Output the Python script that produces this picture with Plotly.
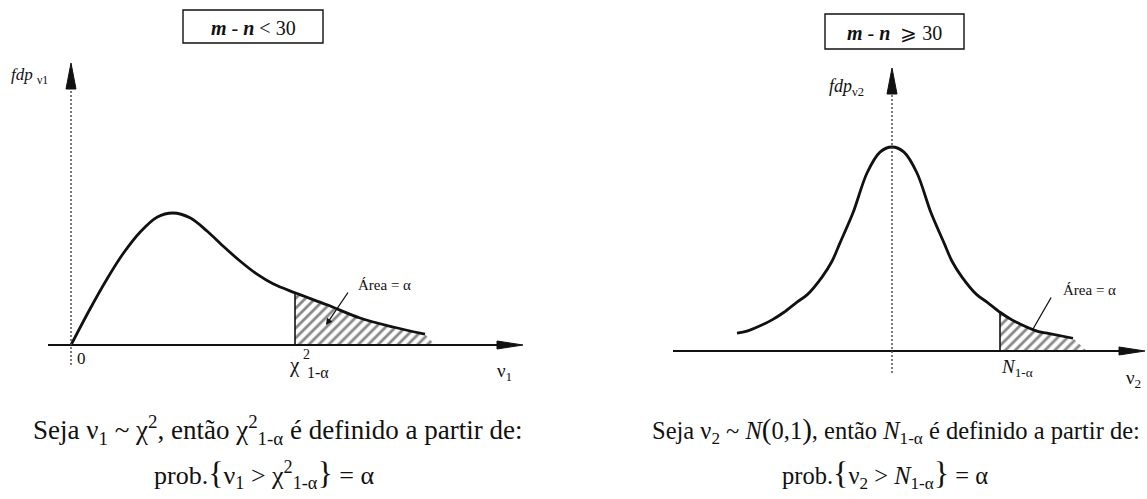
import plotly.graph_objects as go

W, H = 1147, 499
SERIF = "Liberation Serif, Times New Roman, serif"
INK = "#111111"

# Left panel: chi-square type density of v1 (curve traced point by point)
chi_x = [0.0, 0.76, 1.44, 2.08, 2.76, 3.44, 4.08, 4.76, 5.44, 6.08, 6.76,
         7.44, 8.08, 8.96, 10.24, 11.56, 12.88, 14.16]
chi_y = [0.0, 0.060, 0.110, 0.152, 0.188, 0.213, 0.220, 0.212, 0.190, 0.165,
         0.140, 0.118, 0.102, 0.087, 0.067, 0.045, 0.030, 0.018]
chi_crit = 8.96          # chi^2_{1-alpha}
chi_hatch_end = 14.56    # where the hatching meets the axis

# Right panel: standard normal type density of v2
norm_x = [-3.10, -2.90, -2.56, -2.40, -2.16, -1.90, -1.70, -1.40, -1.20, -1.04,
          -0.78, -0.50, -0.24, 0.00, 0.24, 0.50, 0.78, 1.04, 1.20, 1.40, 1.70,
          1.90, 2.16, 2.40, 2.56, 2.90, 3.10, 3.62]
norm_y = [0.035, 0.039, 0.053, 0.061, 0.076, 0.096, 0.110, 0.145, 0.176, 0.212,
          0.271, 0.349, 0.390, 0.400, 0.390, 0.349, 0.271, 0.212, 0.176, 0.145,
          0.110, 0.096, 0.076, 0.061, 0.053, 0.039, 0.035, 0.025]
norm_crit = 2.16         # N_{1-alpha}
norm_hatch_end = 3.90

# Screen placement of each panel: origin pixel and pixels per data unit
PANELS = {
    "left": dict(xa="x", ya="y", ox=71, sx=25, oy=345, sy=600,
                 dom=(0.0, 0.5), xaxis_px=(48, 523), yaxis_px=(365, 63)),
    "right": dict(xa="x2", ya="y2", ox=892, sx=50, oy=351, sy=510,
                  dom=(0.5, 1.0), xaxis_px=(673, 1145), yaxis_px=(373, 68)),
}


def dx(p, px):
    return (px - p["ox"]) / p["sx"]


def dy(p, py):
    return (p["oy"] - py) / p["sy"]


def paper(px, py):
    return px / W, 1 - py / H


fig = go.Figure()
shapes, annotations = [], []


def hatch_polygon(xs, ys, crit, end):
    hx, hy = [crit], [0.0]
    for x, y in zip(xs, ys):
        if x >= crit:
            hx.append(x)
            hy.append(y)
    hx += [end, crit]
    hy += [0.0, 0.0]
    return hx, hy


def add_panel(p, xs, ys, crit, end):
    xa, ya = p["xa"], p["ya"]
    hx, hy = hatch_polygon(xs, ys, crit, end)
    fig.add_trace(go.Scatter(
        x=hx, y=hy, xaxis=xa, yaxis=ya, mode="lines", fill="toself",
        line=dict(width=0, color="rgba(0,0,0,0)"), fillcolor="rgba(0,0,0,0)",
        fillpattern=dict(shape="/", size=7, solidity=0.4, fgcolor="#111111",
                         bgcolor="rgba(0,0,0,0)"),
        hoverinfo="skip", showlegend=False))
    crit_y = ys[xs.index(crit)]
    fig.add_trace(go.Scatter(
        x=[crit, crit], y=[0, crit_y], xaxis=xa, yaxis=ya, mode="lines",
        line=dict(color=INK, width=1.6), hoverinfo="skip", showlegend=False))
    fig.add_trace(go.Scatter(
        x=xs, y=ys, xaxis=xa, yaxis=ya, mode="lines",
        line=dict(color=INK, width=2.8, shape="spline", smoothing=0.9),
        hoverinfo="skip", showlegend=False))

    # horizontal axis with arrow
    x0, x1 = p["xaxis_px"]
    shapes.append(dict(type="line", xref=xa, yref=ya, x0=dx(p, x0), x1=dx(p, x1 - 20),
                       y0=0, y1=0, line=dict(color=INK, width=1.8)))
    tip, base, half = dx(p, x1), dx(p, x1 - 26), 4 / p["sy"]
    shapes.append(dict(type="path", xref=xa, yref=ya, fillcolor=INK,
                       line=dict(color=INK, width=1),
                       path=f"M{tip},0 L{base},{half} L{base},{-half} Z"))
    # vertical axis (dotted) with arrow
    y0, y1 = p["yaxis_px"]
    shapes.append(dict(type="line", xref=xa, yref=ya, x0=0, x1=0,
                       y0=dy(p, y0), y1=dy(p, y1 + 20),
                       line=dict(color="#444444", width=1.4, dash="2px,2px")))
    tip, base, half = dy(p, y1), dy(p, y1 + 26), 5 / p["sx"]
    shapes.append(dict(type="path", xref=xa, yref=ya, fillcolor=INK,
                       line=dict(color=INK, width=1),
                       path=f"M0,{tip} L{half},{base} L{-half},{base} Z"))


add_panel(PANELS["left"], chi_x, chi_y, chi_crit, chi_hatch_end)
add_panel(PANELS["right"], norm_x, norm_y, norm_crit, norm_hatch_end)


def label(px, py, text, size=14, xanchor="center", yanchor="middle", family=SERIF):
    x, y = paper(px, py)
    annotations.append(dict(x=x, y=y, xref="paper", yref="paper", text=text,
                            showarrow=False, xanchor=xanchor, yanchor=yanchor,
                            font=dict(family=family, size=size, color=INK)))


def leader(tip_px, tail_px, head):
    x, y = paper(*tip_px)
    annotations.append(dict(x=x, y=y, xref="paper", yref="paper", text="",
                            showarrow=True, ax=tail_px[0] - tip_px[0],
                            ay=tail_px[1] - tip_px[1], arrowhead=head,
                            arrowsize=1.0, arrowwidth=1.3, arrowcolor=INK,
                            standoff=0, startstandoff=0))


def title_box(x0, y0, x1, y1, text):
    a, b = paper(x0, y0)
    c, d = paper(x1, y1)
    shapes.append(dict(type="rect", xref="paper", yref="paper", x0=a, y0=b, x1=c, y1=d,
                       line=dict(color=INK, width=1.4)))
    label((x0 + x1) / 2, (y0 + y1) / 2 + 1, text, size=20)


# panel headers
title_box(183, 10, 323, 43, "<b><i>m</i></b> - <b><i>n</i></b> &lt; 30")
title_box(825, 14, 964, 49, "<b><i>m</i></b> - <b><i>n</i></b>  ⩾ 30")

# axis captions, left panel
label(9, 76, "<i>fdp</i> <sub>ν1</sub>", size=17, xanchor="left")
label(75, 358, "0", size=17, xanchor="left")
label(294, 365, "χ", size=21)
label(306, 354, "2", size=14)
label(318, 372, "1-α", size=16)
label(504, 372, "ν<sub>1</sub>", size=19)
label(384, 285, "Área = α", size=15)
leader((326, 325), (349, 291), 2)

# axis captions, right panel
label(827, 88, "<i>fdp</i><sub>ν2</sub>", size=18, xanchor="left")
label(1017, 368, "<i>N</i><sub>1-α</sub>", size=19)
label(1133, 379, "ν<sub>2</sub>", size=19)
label(1089, 290, "Área = α", size=15)
leader((1033, 329), (1052, 296), 0)

# definitions below the panels
BIG = '<span style="font-size:32px">'
BIG_R = '<span style="font-size:29px">'
label(277, 430, "Seja ν<sub>1</sub> ~ χ<sup>2</sup>, então χ<sup>2</sup><sub>1-α</sub> "
      "é definido a partir de:", size=27)
label(264, 474, f"prob.{BIG}{{</span>ν<sub>1</sub> &gt; χ<sup>2</sup><sub>1-α</sub>"
      f"{BIG}}}</span> = α", size=26)
label(896, 430, f"Seja ν<sub>2</sub> ~ <i>N</i>{BIG_R}(</span>0,1{BIG_R})</span>, então "
      "<i>N</i><sub>1-α</sub> é definido a partir de:", size=24.5)
label(885, 474, f"prob.{BIG}{{</span>ν<sub>2</sub> &gt; <i>N</i><sub>1-α</sub>"
      f"{BIG}}}</span> = α", size=24.5)

layout_axes = {}
for key, p in PANELS.items():
    sfx = "" if p["xa"] == "x" else "2"
    left_px, right_px = p["dom"][0] * W, p["dom"][1] * W
    layout_axes["xaxis" + sfx] = dict(domain=list(p["dom"]), visible=False, fixedrange=True,
                                      range=[dx(p, left_px), dx(p, right_px)])
    layout_axes["yaxis" + sfx] = dict(domain=[0, 1], visible=False, fixedrange=True,
                                      range=[dy(p, H), dy(p, 0)],
                                      anchor=p["xa"])
layout_axes["xaxis2"]["anchor"] = "y2"

fig.update_layout(
    width=W, height=H, margin=dict(l=0, r=0, t=0, b=0),
    paper_bgcolor="white", plot_bgcolor="white", showlegend=False,
    shapes=shapes, annotations=annotations, **layout_axes)

fig.write_html("out.html", config={"displayModeBar": False})
